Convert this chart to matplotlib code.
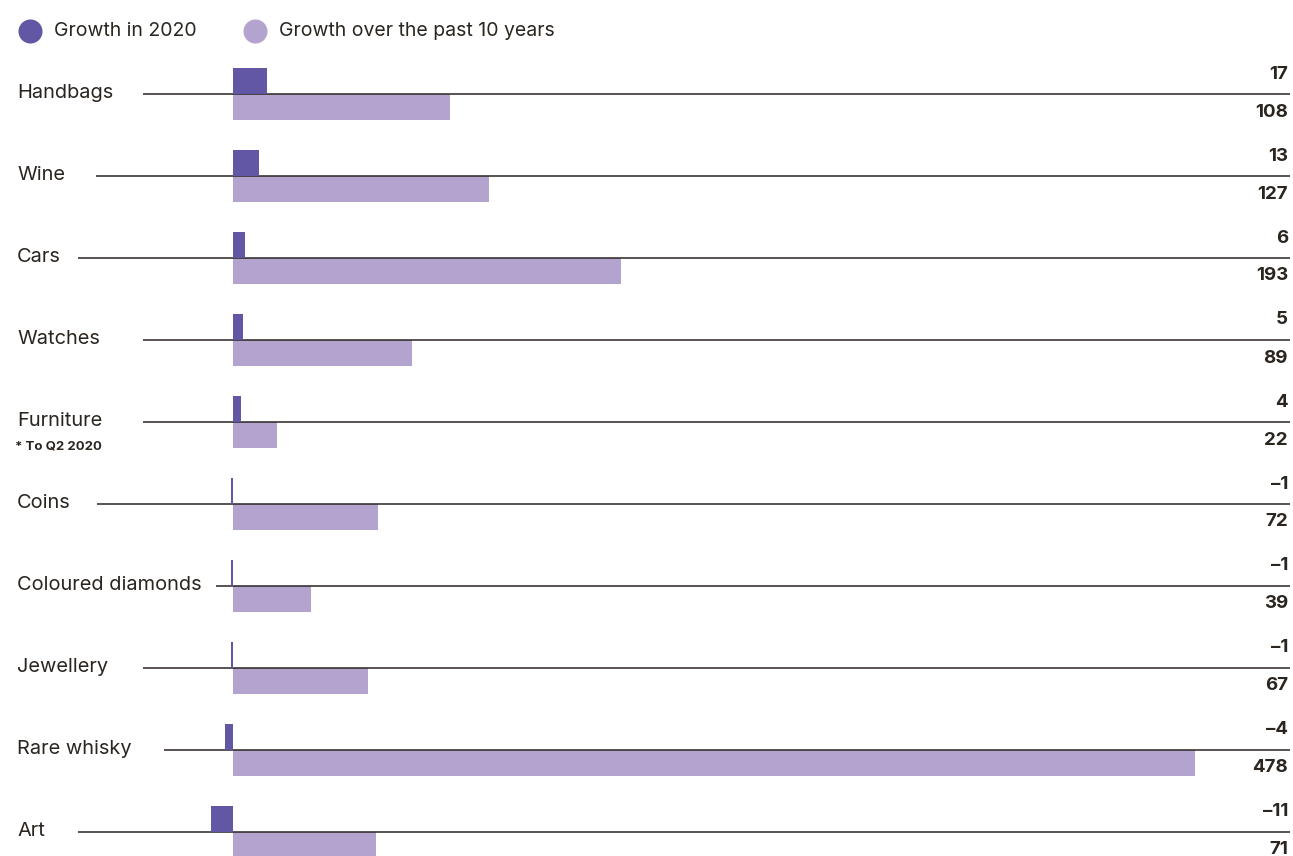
import matplotlib.pyplot as plt

categories = ["Handbags", "Wine", "Cars", "Watches", "Furniture", "Coins",
              "Coloured diamonds", "Jewellery", "Rare whisky", "Art"]
growth_2020 = [17, 13, 6, 5, 4, -1, -1, -1, -4, -11]
growth_10y = [108, 127, 193, 89, 22, 72, 39, 67, 478, 71]
value_labels_2020 = ["17", "13", "6", "5", "4", "\u20131", "\u20131", "\u20131", "\u20134", "\u201311"]
value_labels_10y = ["108", "127", "193", "89", "22", "72", "39", "67", "478", "71"]
legend_labels = ["Growth in 2020", "Growth over the past 10 years"]
footnote = "* To Q2 2020"

# styling
dark = "#6157a5"
light = "#b2a4cf"
ink = "#2b2520"
font = ["Inter", "DejaVu Sans"]
px_per_unit = 2.0126
zero_px = 233
W, H = 1293, 856
row_top = 94
row_step = 82
bar_h = 26
# where each row's rule starts (in value units, left of zero)
line_start = [-44.7, -68.3, -77.2, -44.7, -44.7, -67.8, -8.4, -44.7, -34.3, -77.2]


def to_x(px):
    return (px - zero_px) / px_per_unit


plt.rcParams['font.family'] = font
fig = plt.figure(figsize=(W / 100, H / 100), dpi=100)
ax = fig.add_axes([0, 0, 1, 1])
ax.set_xlim(to_x(0), to_x(W))
ax.set_ylim(H, 0)
ax.axis("off")

for i, cat in enumerate(categories):
    y = row_top + row_step * i
    ax.hlines(y, line_start[i], to_x(1290), color=ink, lw=1.1, zorder=2)
    # y axis points down, so negative height draws above the rule
    ax.barh(y, growth_2020[i], height=-bar_h, align="edge", color=dark, zorder=3)
    ax.barh(y, growth_10y[i], height=bar_h, align="edge", color=light, zorder=1)
    ax.text(to_x(17), y - 1, cat, ha="left", va="center", fontsize=14.4, color=ink)
    ax.text(to_x(1288), y - 20, value_labels_2020[i], ha="right", va="center",
            fontsize=13.5, fontweight="bold", color=ink)
    ax.text(to_x(1288), y + 18, value_labels_10y[i], ha="right", va="center",
            fontsize=13.5, fontweight="bold", color=ink)
    if cat == "Furniture":
        ax.text(to_x(15), y + 24, footnote, ha="left", va="center",
                fontsize=9.5, fontweight="bold", color=ink)

# legend
legend_dot_px = [30, 255]
for c, lab, px in zip((dark, light), legend_labels, legend_dot_px):
    ax.scatter([to_x(px)], [31], s=300, color=c, linewidths=0, clip_on=False)
    ax.text(to_x(px + 24), 31, lab, ha="left", va="center", fontsize=14, color=ink)

fig.savefig("out.png", dpi=100)
